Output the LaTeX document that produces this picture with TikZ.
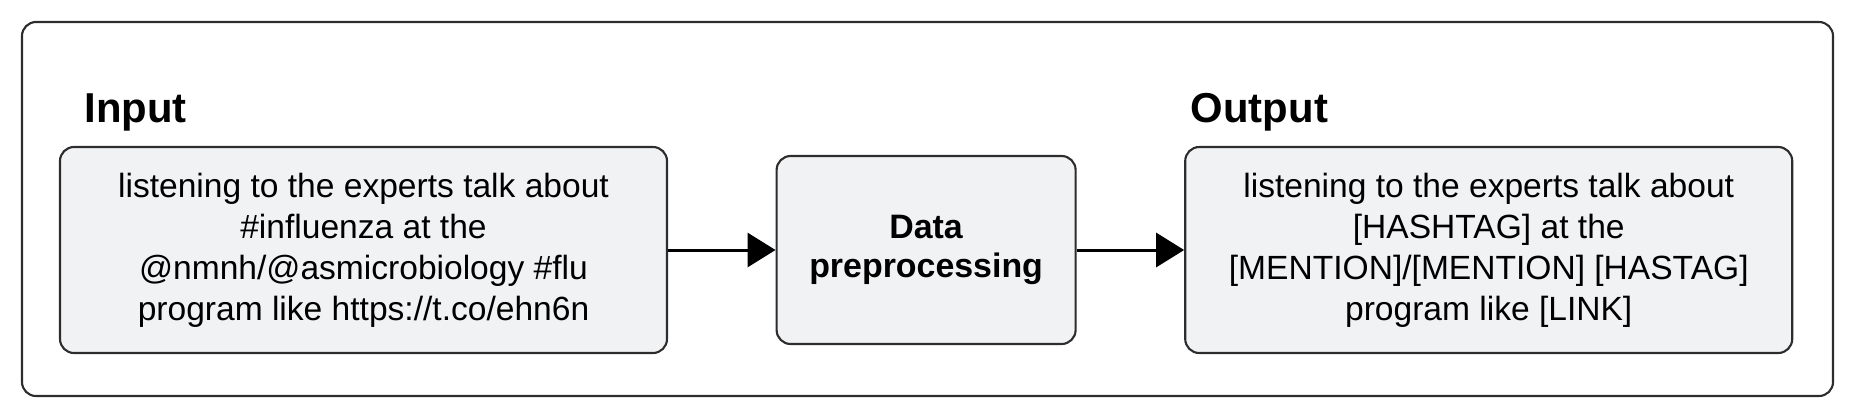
\documentclass[tikz,border=0pt]{standalone}
\usepackage{fontspec}
\setmainfont{Liberation Sans}
\usetikzlibrary{positioning,arrows.meta}
\definecolor{boxfill}{RGB}{241,242,244}
\definecolor{linecolor}{RGB}{45,45,45}

\begin{document}
\begin{tikzpicture}[
    >={Triangle[length=0.28cm, width=0.34cm]},
    frame/.style={draw=linecolor, line width=0.6pt, rounded corners=0.14cm},
    box/.style={draw=linecolor, fill=boxfill, line width=0.6pt, rounded corners=0.14cm, align=center, inner sep=0pt, font=\fontsize{9.55}{11.7}\selectfont},
    head/.style={inner sep=0pt, anchor=base west, font=\fontsize{11.9}{14}\selectfont\bfseries}
]
\useasboundingbox (0,0) rectangle (18.56,-4.18);

% Outer frame
\draw[frame] (0.22,-0.22) rectangle (18.33,-3.96);

% Blocks
\node[box, minimum width=6.07cm, minimum height=2.06cm] (input) at (3.635,-2.50) {listening to the experts talk about\\ \#influenza at the\\ @nmnh/@asmicrobiology \#flu\\ program like https://t.co/ehn6n};
\node[box, right=1.075cm of input, minimum width=2.99cm, minimum height=1.88cm, font=\fontsize{9.65}{11.1}\selectfont\bfseries] (prep) {Data\\ preprocessing};
\node[box, right=1.075cm of prep, minimum width=6.07cm, minimum height=2.06cm] (output) {listening to the experts talk about\\ {[HASHTAG]} at the\\ {[MENTION]}/[MENTION] [HASTAG]\\ program like [LINK]};

% Headings
\node[head] (inhead) at ([shift={(0.25,0.23)}]input.north west) {Input};
\node[head] (outhead) at ([shift={(0.06,0.23)}]output.north west) {Output};

% Connections
\draw[->, line width=0.85pt] (input) -- (prep);
\draw[->, line width=0.85pt] (prep) -- (output);

\end{tikzpicture}
\end{document}
